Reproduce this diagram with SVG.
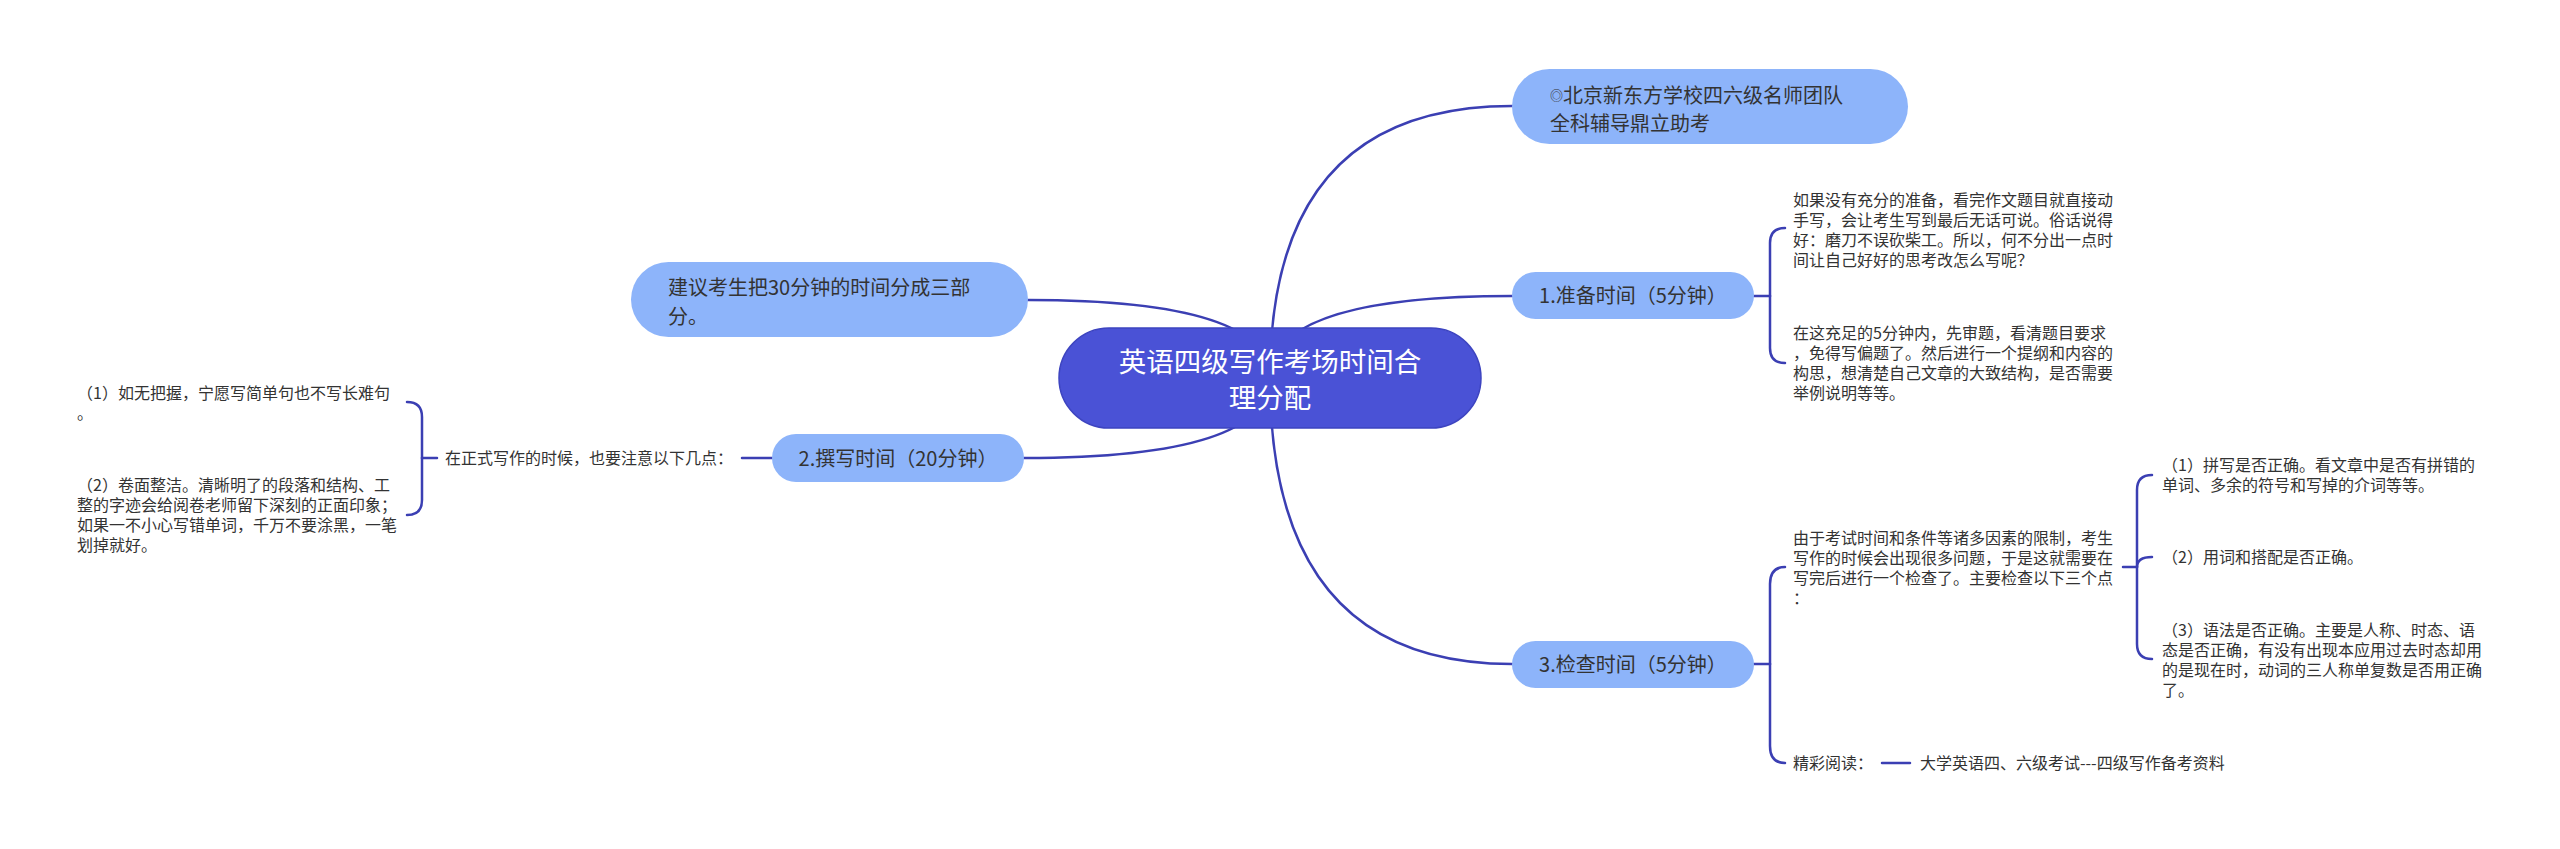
<svg xmlns="http://www.w3.org/2000/svg" width="2560" height="849" viewBox="0 0 2560 849">
<style>
  text { font-family: "Noto Sans CJK SC", "Noto Sans", sans-serif; fill: #333333; }
  .root { fill: #4a52d6; stroke: #3d44c0; stroke-width: 1.5; }
  .roottxt { font-size: 27.5px; fill: #ffffff; text-anchor: middle; }
  .main { fill: #8db4fa; }
  .maintxt { font-size: 20px; }
  .mid { text-anchor: middle; }
  .leaf { font-size: 16px; }
  .conn path { fill: none; stroke: #3b3fb3; stroke-width: 2.5; stroke-linecap: round; }
</style>
<rect width="2560" height="849" fill="#ffffff"/>

<g id="connectors" class="conn">
  <!-- root to main topics -->
  <path d="M1270 378 Q1270 106 1512 106"/>
  <path d="M1270 378 Q1270 296 1512 296"/>
  <path d="M1270 378 Q1270 664 1512 664"/>
  <path d="M1270 378 Q1270 300 1028 300"/>
  <path d="M1270 378 Q1270 458 1024 458"/>
  <!-- node 1 bracket -->
  <path d="M1754 296 H1770"/>
  <path d="M1770 296 V243 Q1770 228 1785 228"/>
  <path d="M1770 296 V348 Q1770 363 1785 363"/>
  <!-- node 3 bracket -->
  <path d="M1754 664 H1770"/>
  <path d="M1770 664 V584 Q1770 567 1785 567"/>
  <path d="M1770 664 V746 Q1770 763 1785 763"/>
  <path d="M1882 763 H1910"/>
  <!-- sub bracket -->
  <path d="M2123 567 H2137"/>
  <path d="M2137 567 V490 Q2137 475 2152 475"/>
  <path d="M2137 567 Q2137 557 2152 557"/>
  <path d="M2137 567 V644 Q2137 659 2152 659"/>
  <!-- node 2 bracket -->
  <path d="M772 458 H742"/>
  <path d="M437 458 H422"/>
  <path d="M422 458 V417 Q422 402 407 402"/>
  <path d="M422 458 V500 Q422 515 407 515"/>
</g>

<g id="root">
  <rect class="root" x="1059" y="328" width="422" height="100" rx="50"/>
  <text class="roottxt" x="1270" y="372">英语四级写作考场时间合</text>
  <text class="roottxt" x="1270" y="408">理分配</text>
</g>

<g id="node-top">
  <rect class="main" x="1512" y="69" width="396" height="75" rx="37.5"/>
  <text class="maintxt" x="1550" y="103"><tspan font-size="13" dy="-3">◎</tspan><tspan dy="3">北京新东方学校四六级名师团队</tspan></text>
  <text class="maintxt" x="1550" y="131">全科辅导鼎立助考</text>
</g>

<g id="node-1">
  <rect class="main" x="1512" y="272" width="242" height="47" rx="23.5"/>
  <text class="maintxt mid" x="1633" y="303">1.准备时间（5分钟）</text>
</g>

<g id="node-1a">
  <text class="leaf" x="1793" y="206">如果没有充分的准备，看完作文题目就直接动</text>
  <text class="leaf" x="1793" y="226">手写，会让考生写到最后无话可说。俗话说得</text>
  <text class="leaf" x="1793" y="246">好：磨刀不误砍柴工。所以，何不分出一点时</text>
  <text class="leaf" x="1793" y="266">间让自己好好的思考改怎么写呢？</text>
</g>

<g id="node-1b">
  <text class="leaf" x="1793" y="339">在这充足的5分钟内，先审题，看清题目要求</text>
  <text class="leaf" x="1793" y="359">，免得写偏题了。然后进行一个提纲和内容的</text>
  <text class="leaf" x="1793" y="379">构思，想清楚自己文章的大致结构，是否需要</text>
  <text class="leaf" x="1793" y="399">举例说明等等。</text>
</g>

<g id="node-3">
  <rect class="main" x="1512" y="641" width="242" height="47" rx="23.5"/>
  <text class="maintxt mid" x="1633" y="672">3.检查时间（5分钟）</text>
</g>

<g id="node-3a">
  <text class="leaf" x="1793" y="544">由于考试时间和条件等诸多因素的限制，考生</text>
  <text class="leaf" x="1793" y="564">写作的时候会出现很多问题，于是这就需要在</text>
  <text class="leaf" x="1793" y="584">写完后进行一个检查了。主要检查以下三个点</text>
  <text class="leaf" x="1793" y="604">：</text>
</g>

<g id="node-3a1">
  <text class="leaf" x="2162" y="471">（1）拼写是否正确。看文章中是否有拼错的</text>
  <text class="leaf" x="2162" y="491">单词、多余的符号和写掉的介词等等。</text>
</g>
<g id="node-3a2">
  <text class="leaf" x="2162" y="563">（2）用词和搭配是否正确。</text>
</g>
<g id="node-3a3">
  <text class="leaf" x="2162" y="636">（3）语法是否正确。主要是人称、时态、语</text>
  <text class="leaf" x="2162" y="656">态是否正确，有没有出现本应用过去时态却用</text>
  <text class="leaf" x="2162" y="676">的是现在时，动词的三人称单复数是否用正确</text>
  <text class="leaf" x="2162" y="696">了。</text>
</g>

<g id="node-3b">
  <text class="leaf" x="1793" y="769">精彩阅读：</text>
</g>
<g id="node-3b1">
  <text class="leaf" x="1920" y="769">大学英语四、六级考试---四级写作备考资料</text>
</g>

<g id="node-left-1">
  <rect class="main" x="631" y="262" width="397" height="75" rx="37.5"/>
  <text class="maintxt" x="668" y="295">建议考生把30分钟的时间分成三部</text>
  <text class="maintxt" x="668" y="324">分。</text>
</g>

<g id="node-2">
  <rect class="main" x="772" y="434" width="252" height="48" rx="24"/>
  <text class="maintxt mid" x="898" y="466">2.撰写时间（20分钟）</text>
</g>

<g id="node-2a">
  <text class="leaf" x="445" y="464">在正式写作的时候，也要注意以下几点：</text>
</g>

<g id="node-2a1">
  <text class="leaf" x="77" y="399">（1）如无把握，宁愿写简单句也不写长难句</text>
  <text class="leaf" x="77" y="419">。</text>
</g>
<g id="node-2a2">
  <text class="leaf" x="77" y="491">（2）卷面整洁。清晰明了的段落和结构、工</text>
  <text class="leaf" x="77" y="511">整的字迹会给阅卷老师留下深刻的正面印象；</text>
  <text class="leaf" x="77" y="531">如果一不小心写错单词，千万不要涂黑，一笔</text>
  <text class="leaf" x="77" y="551">划掉就好。</text>
</g>
</svg>
